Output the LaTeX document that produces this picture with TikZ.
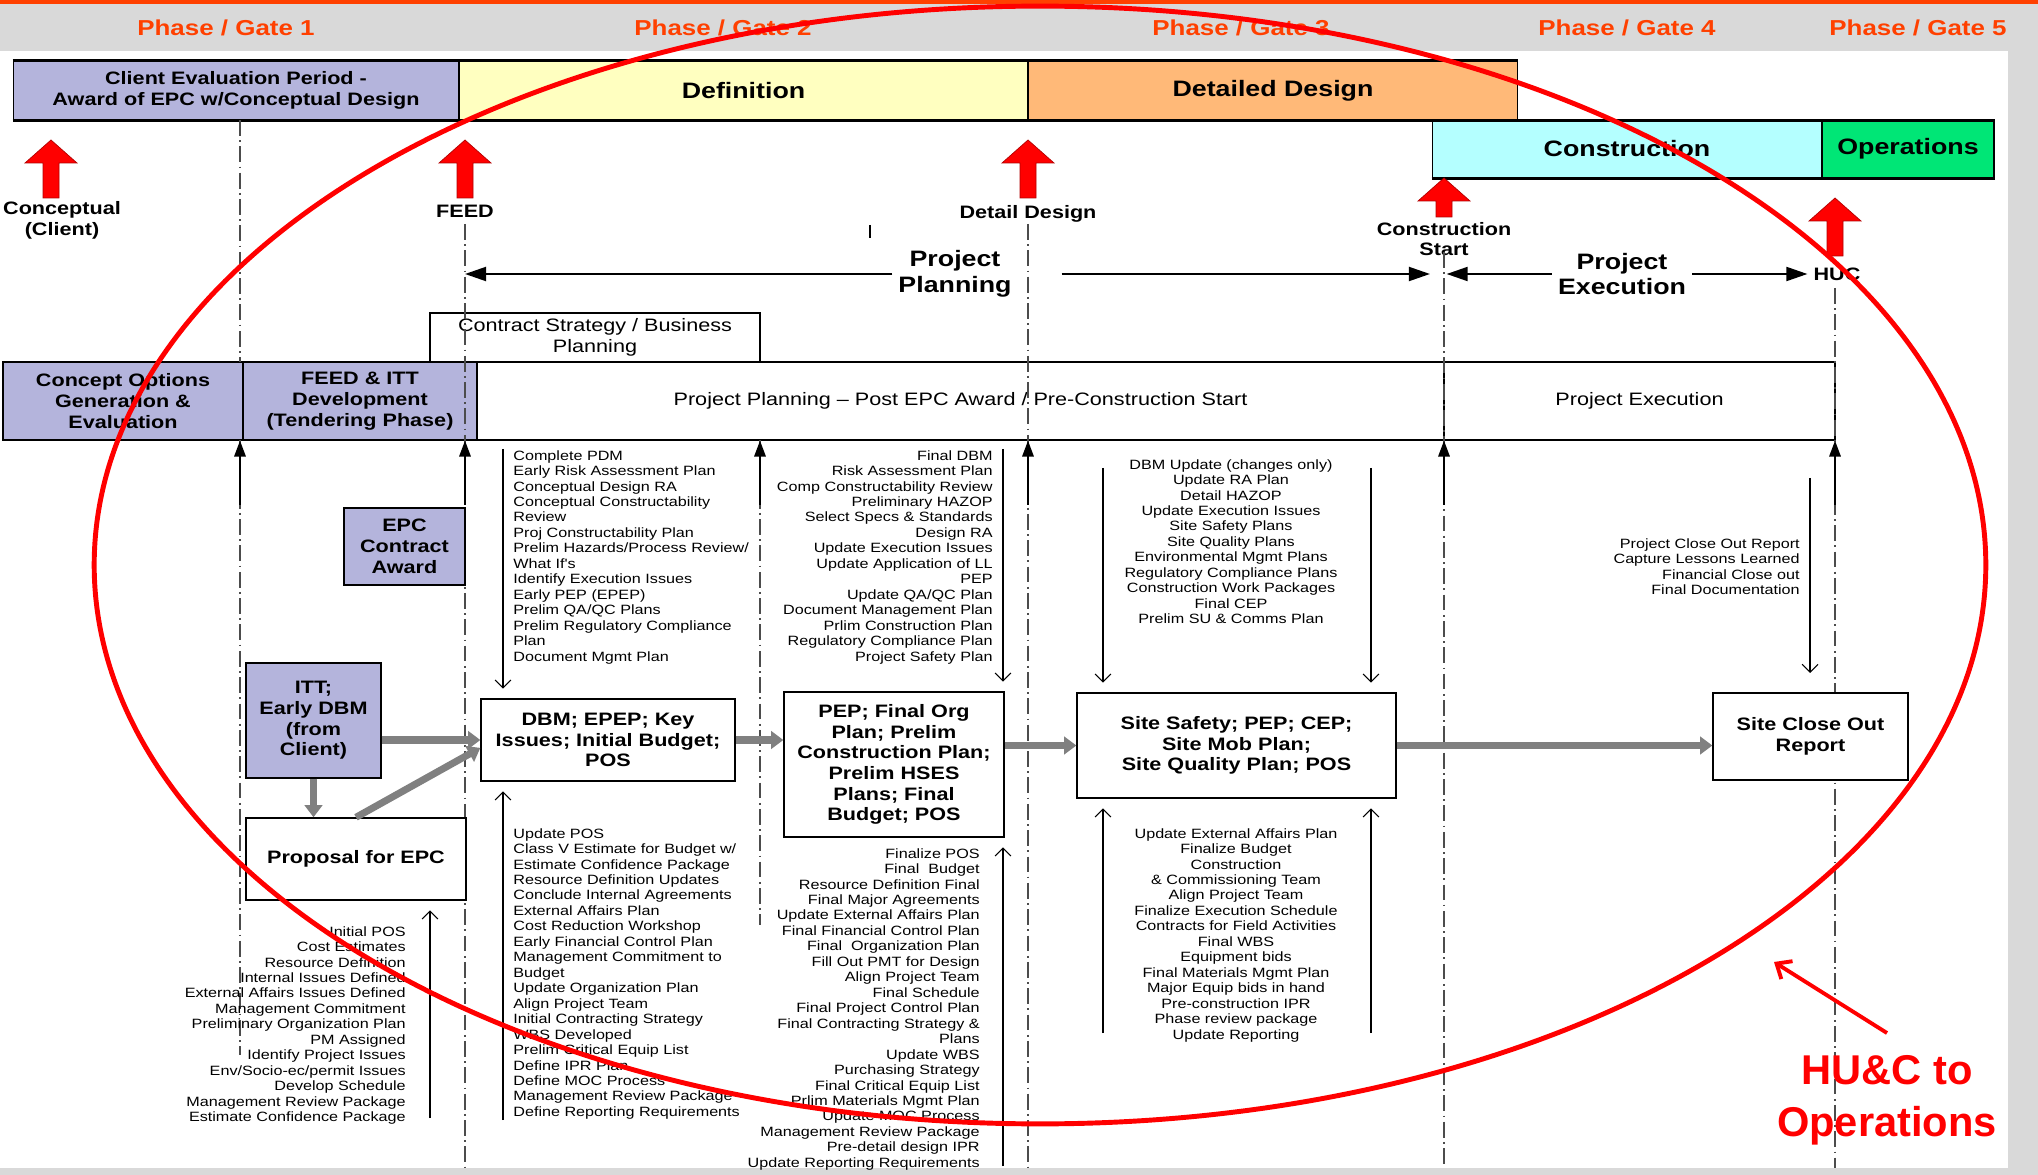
\documentclass[tikz,border=0pt]{standalone}
\usepackage{fontspec}
\setmainfont{Liberation Sans}
\newfontfamily\narrowsans[FakeStretch=1.2]{Liberation Sans}
\usetikzlibrary{arrows.meta,positioning}
\definecolor{gatered}{RGB}{255,64,0}
\definecolor{lav}{RGB}{180,180,220}
\definecolor{defyel}{RGB}{255,255,192}
\definecolor{detorg}{RGB}{255,185,120}
\definecolor{concyan}{RGB}{180,255,255}
\definecolor{opsgrn}{RGB}{0,230,118}
\definecolor{bggray}{RGB}{217,217,217}
\definecolor{fatgray}{RGB}{128,128,128}
\tikzset{
	phase/.style={text=gatered,font=\narrowsans\bfseries\fontsize{12.3}{14}\selectfont},
	bar/.style 2 args={draw,line width=0.6pt,fill=#1,inner sep=0pt,minimum height=1.17cm,minimum width=#2,align=center,font=\narrowsans\bfseries\fontsize{12.7}{14}\selectfont},
	tag/.style={align=center,font=\narrowsans\bfseries\fontsize{10.25}{11.8}\selectfont},
	span/.style={align=center,font=\narrowsans\bfseries\fontsize{12.7}{14.7}\selectfont},
	box/.style={draw,line width=0.8pt,fill=white,inner sep=0pt,align=center,font=\narrowsans\bfseries\fontsize{10.25}{11.8}\selectfont},
	lbox/.style={box,fill=lav},
	plain/.style={font=\narrowsans\fontsize{10.25}{11.8}\selectfont},
	list/.style={inner sep=0pt,font=\narrowsans\fontsize{7.67}{8.8}\selectfont},
	gateline/.style={black!70,line width=0.7pt,dash pattern=on 9pt off 2.5pt on 1pt off 2.5pt},
	bigarr/.style={line width=1.1pt,-{Triangle[length=12pt,width=8pt]}},
	uparr/.style={line width=1pt,-{Triangle[length=9pt,width=6.5pt]}},
	note/.style={line width=0.6pt,shorten >=5.5pt,-{Straight Barb[length=4.5pt,width=9pt]}},
	fat/.style={fatgray,line width=4pt,-{Triangle[length=7pt,width=10pt]}},
	pics/gatearrow/.style={code={
		\draw[fill=red,draw=red!70!black,line width=0.4pt] (-8,0) -- (-8,23-#1) -- (-26,23-#1) -- (0,-#1) -- (26,23-#1) -- (8,23-#1) -- (8,0) -- cycle;}}
}

\begin{document}
\begin{tikzpicture}[x=0.02cm,y=-0.02cm]
	\useasboundingbox (0,0) rectangle (2038,1175);
	\fill[bggray] (0,0) rectangle (2038,1175);
	\fill[white] (0,51) rectangle (2008,1168);
	\fill[gatered] (0,0) rectangle (2038,4);

	% phases
	\node [phase] (ph1) at (226,28) {Phase / Gate 1};
	\node [phase] (ph2) at (723,28) {Phase / Gate 2};
	\node [phase] (ph3) at (1241,28) {Phase / Gate 3};
	\node [phase] (ph4) at (1627,28) {Phase / Gate 4};
	\node [phase] (ph5) at (1918,28) {Phase / Gate 5};

	% stage bars
	\node [bar={lav}{8.92cm},font=\narrowsans\bfseries\fontsize{10.25}{11.8}\selectfont] (cep) at (236,90.5) {Client Evaluation Period -\\Award of EPC w/Conceptual Design};
	\node [bar={defyel}{11.38cm}] (def) at (743.5,90.5) {Definition};
	\node [bar={detorg}{9.8cm}] (det) at (1273,90.5) {Detailed Design};
	\node [bar={concyan}{7.8cm}] (con) at (1627,149) {Construction};
	\node [bar={opsgrn}{3.44cm}] (ops) at (1908,149) {Operations};
	\draw [line width=1.6pt] (cep.north west) -- (det.north east);
	\draw [line width=1.6pt] (cep.south west) -- (cep.south west -| ops.east);
	\draw [line width=1.6pt] (con.south west) -- (ops.south east);

	% gates
	\coordinate (xC) at (240,0);
	\coordinate (xF) at (465,0);
	\coordinate (xM) at (760,0);
	\coordinate (xD) at (1028,0);
	\coordinate (xS) at (1444,0);
	\coordinate (xH) at (1835,0);
	\node [tag] (lc) at (62,220) {Conceptual\\(Client)};
	\node [tag] (lf) at (465,211) {FEED};
	\node [tag] (ld) at (1028,214) {Detail Design};
	\node [tag] (ls) at (1444,239) {Construction\\Start};
	\node [tag] (lh) at (1837,274) {HUC};
	\pic at (51,198) {gatearrow=58};
	\pic at (465,198) {gatearrow=58};
	\pic at (1028,198) {gatearrow=58};
	\pic at (1444,217) {gatearrow=39};
	\pic at (1835,256) {gatearrow=58};

	\node [span] (pp) at (955,274) {Project\\Planning};
	\node [span] (pe) at (1622,274) {Project\\Execution};
	\draw [bigarr] (pp.west) -- (pp.west -| xF);
	\draw [bigarr,shorten >=8pt] ([xshift=0.88cm]pp.east) -- (pp.east -| xS);
	\draw [bigarr,shorten >=1.5pt] (pe.west) -- (pe.west -| xS);
	\draw [bigarr] (pe.east) -- (lh.west);

	% bands
	\node [box,plain,minimum width=6.6cm,minimum height=0.98cm] (csb) at (595,337.5) {Contract Strategy / Business\\Planning};
	\node [lbox,minimum width=4.8cm,minimum height=1.56cm] (opt) at (123,401) {Concept Options\\Generation \&\\Evaluation};
	\node [lbox,minimum width=4.68cm,minimum height=1.56cm] (feed) at (360,401) {FEED \& ITT\\Development\\(Tendering Phase)};
	\node [box,plain,minimum width=19.34cm,minimum height=1.56cm] (ppl) at (960.5,401) {Project Planning – Post EPC Award / Pre-Construction Start};
	\node [box,plain,minimum width=7.82cm,minimum height=1.56cm] (pex) at (1639.5,401) {Project Execution};

	\draw [gateline] (240,120) -- (240,362);
	\draw [gateline] (240,440) -- (240,1055);
	\draw [gateline] (465,224) -- (465,1168);
	\draw [gateline] (760,440) -- (760,925);
	\draw [gateline] (1028,224) -- (1028,1168);
	\draw [gateline] (1444,252) -- (1444,1168);
	\draw [gateline] (1835,288) -- (1835,1168);
	\draw [line width=0.8pt] (870,225) -- (870,238);
	\foreach \g in {xC,xF,xM,xD,xS,xH}
		\draw [uparr] (\g |- 0,505) -- (\g |- opt.south);

	% deliverables
	\node [lbox,minimum width=2.42cm,minimum height=1.54cm] (epc) at (404.5,546.5) {EPC\\Contract\\Award};
	\node [lbox,minimum width=2.7cm,minimum height=2.3cm] (itt) at (313.5,720.5) {ITT;\\Early DBM\\(from\\Client)};
	\node [box,minimum width=4.4cm,minimum height=1.64cm] (prop) at (356,859) {Proposal for EPC};
	\node [box,minimum width=5.08cm,minimum height=1.64cm] (dbm) at (608,740) {DBM; EPEP; Key\\Issues; Initial Budget;\\POS};
	\node [box,minimum width=4.4cm,minimum height=2.9cm] (pep) at (894,764.5) {PEP; Final Org\\Plan; Prelim\\Construction Plan;\\Prelim HSES\\Plans; Final\\Budget; POS};
	\node [box,minimum width=6.38cm,minimum height=2.1cm] (site) at (1236.5,745.5) {Site Safety; PEP; CEP;\\Site Mob Plan;\\Site Quality Plan; POS};
	\node [box,minimum width=3.9cm,minimum height=1.74cm] (close) at (1810.5,736.5) {Site Close Out\\Report};

	\draw [fat] (itt.east |- dbm.west) -- (dbm.west);
	\draw [fat] (itt.south) -- (itt.south |- prop.north);
	\draw [fat] (prop.north) -- ([yshift=-4.5pt]dbm.west);
	\draw [fat] (dbm.east) -- (dbm.east -| pep.west);
	\draw [fat] (pep.east |- site.west) -- (site.west);
	\draw [fat] (site.east) -- (site.east -| close.west);

	% activity lists
	\node [list,anchor=north east,align=right] (l1) at (406,926) {Initial POS\\Cost Estimates\\Resource Definition\\Internal Issues Defined\\External Affairs Issues Defined\\Management Commitment\\Preliminary Organization Plan\\PM Assigned\\Identify Project Issues\\Env/Socio-ec/permit Issues\\Develop Schedule\\Management Review Package\\Estimate Confidence Package};
	\node [list,anchor=north west,align=left] (u2) at (513,450) {Complete PDM\\Early Risk Assessment Plan\\Conceptual Design RA\\Conceptual Constructability\\Review\\Proj Constructability Plan\\Prelim Hazards/Process Review/\\What If's\\Identify Execution Issues\\Early PEP (EPEP)\\Prelim QA/QC Plans\\Prelim Regulatory Compliance\\Plan\\Document Mgmt Plan};
	\node [list,anchor=north west,align=left] (l2) at (513,828) {Update POS\\Class V Estimate for Budget w/\\Estimate Confidence Package\\Resource Definition Updates\\Conclude Internal Agreements\\External Affairs Plan\\Cost Reduction Workshop\\Early Financial Control Plan\\Management Commitment to\\Budget\\Update Organization Plan\\Align Project Team\\Initial Contracting Strategy\\WBS Developed\\Prelim Critical Equip List\\Define IPR Plan\\Define MOC Process\\Management Review Package\\Define Reporting Requirements};
	\node [list,anchor=north east,align=right] (u3) at (993,450) {Final DBM\\Risk Assessment Plan\\Comp Constructability Review\\Preliminary HAZOP\\Select Specs \& Standards\\Design RA\\Update Execution Issues\\Update Application of LL\\PEP\\Update QA/QC Plan\\Document Management Plan\\Prlim Construction Plan\\Regulatory Compliance Plan\\Project Safety Plan};
	\node [list,anchor=north east,align=right] (l3) at (980,848) {Finalize POS\\Final\ \ Budget\\Resource Definition Final\\Final Major Agreements\\Update External Affairs Plan\\Final Financial Control Plan\\Final\ \ Organization Plan\\Fill Out PMT for Design\\Align Project Team\\Final Schedule\\Final Project Control Plan\\Final Contracting Strategy \&\\Plans\\Update WBS\\Purchasing Strategy\\Final Critical Equip List\\Prlim Materials Mgmt Plan\\Update MOC Process\\Management Review Package\\Pre-detail design IPR\\Update Reporting Requirements};
	\node [list,anchor=north,align=center] (u4) at (1231,459) {DBM Update (changes only)\\Update RA Plan\\Detail HAZOP\\Update Execution Issues\\Site Safety Plans\\Site Quality Plans\\Environmental Mgmt Plans\\Regulatory Compliance Plans\\Construction Work Packages\\Final CEP\\Prelim SU \& Comms Plan};
	\node [list,anchor=north,align=center] (l4) at (1236,828) {Update External Affairs Plan\\Finalize Budget\\Construction\\\& Commissioning Team\\Align Project Team\\Finalize Execution Schedule\\Contracts for Field Activities\\Final WBS\\Equipment bids\\Final Materials Mgmt Plan\\Major Equip bids in hand\\Pre-construction IPR\\Phase review package\\Update Reporting};
	\node [list,anchor=north east,align=right] (u5) at (1800,538) {Project Close Out Report\\Capture Lessons Learned\\Financial Close out\\Final Documentation};

	% feeder arrows
	\coordinate (n1) at (430,1118);
	\coordinate (n2) at (503,449);
	\coordinate (n3) at (503,1120);
	\coordinate (n4) at (1003,449);
	\coordinate (n5) at (1003,1166);
	\coordinate (n6) at (1103,468);
	\coordinate (n7) at (1371,468);
	\coordinate (n8) at (1103,1033);
	\coordinate (n9) at (1371,1033);
	\coordinate (n10) at (1810,478);
	\draw [note] (n1) -- (n1 |- prop.south);
	\draw [note] (n2) -- (n2 |- dbm.north);
	\draw [note] (n3) -- (n3 |- dbm.south);
	\draw [note] (n4) -- (n4 |- pep.north);
	\draw [note] (n5) -- (n5 |- pep.south);
	\draw [note] (n6) -- (n6 |- site.north);
	\draw [note] (n7) -- (n7 |- site.north);
	\draw [note] (n8) -- (n8 |- site.south);
	\draw [note] (n9) -- (n9 |- site.south);
	\draw [note,shorten >=11pt] (n10) -- (n10 |- close.north);

	% highlight
	\draw [red,line width=2.8pt] (1040,565) ellipse [x radius=18.92cm, y radius=11.18cm];
	\node [text=red,align=center,font=\bfseries\fontsize{23.7}{29.5}\selectfont] (hu) at (1887,1100) {HU\&C to\\Operations};
	\coordinate (huTip) at (1774,962);
	\draw [red,line width=2.2pt,-{Straight Barb[length=7pt,width=12pt]}] ([yshift=0.32cm]hu.north) -- (huTip);
\end{tikzpicture}
\end{document}
